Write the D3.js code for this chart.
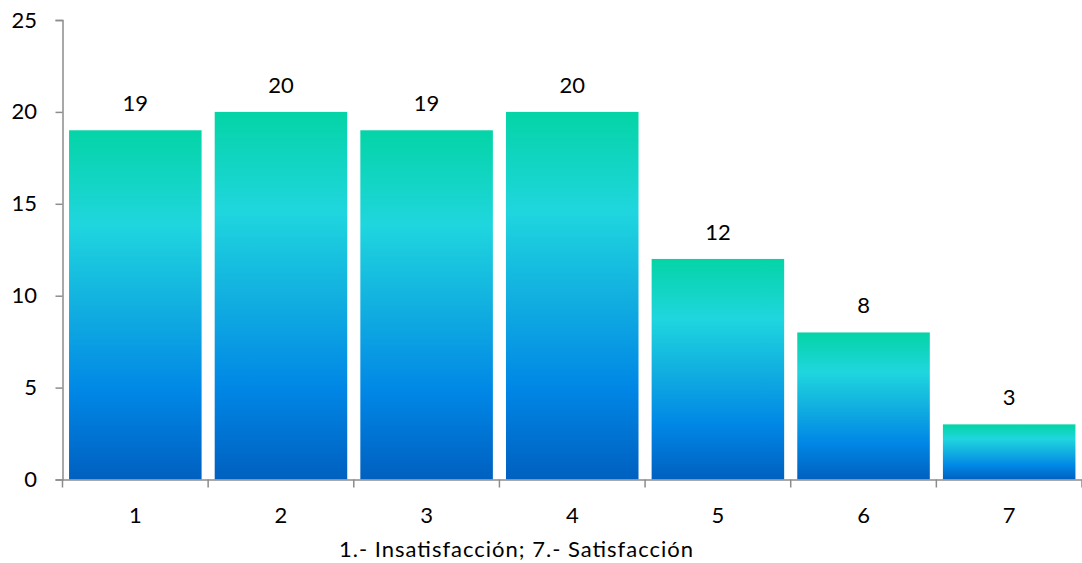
<!DOCTYPE html>
<html><head><meta charset="utf-8">
<script src="https://cdn.jsdelivr.net/npm/d3@7"></script>
<style>
body{margin:0;background:#fff;}
text{font-family:Lato,"Open Sans",sans-serif;fill:#000;}
</style></head>
<body><svg id="c" width="1082" height="563"></svg>
<script>
const categories = ["1","2","3","4","5","6","7"];
const values = [19,20,19,20,12,8,3];
const yTicks = [0,5,10,15,20,25];
const xTitle = "1.- Insatisfacción; 7.- Satisfacción";

const svg = d3.select("#c");
const mLeft = 62.5, mRight = 1082, mTop = 20, mBottom = 479.5;
const FS = 22;
const x = d3.scaleBand().domain(categories).range([mLeft, mRight]).paddingInner(0.09).paddingOuter(0.045);
const y = d3.scaleLinear().domain([0,25]).range([mBottom, mTop]);

const defs = svg.append("defs");
const g = defs.append("linearGradient").attr("id","grad").attr("x1",0).attr("y1",0).attr("x2",0).attr("y2",1);
[[0,"#04d4a6"],[0.27,"#1fd6de"],[0.5,"#12b0e0"],[0.75,"#0087e6"],[1,"#0060c0"]].forEach(([o,c])=>g.append("stop").attr("offset",o).attr("stop-color",c));

svg.selectAll("rect.bar").data(values).join("rect").attr("class","bar")
  .attr("x",(d,i)=>x(categories[i])).attr("width",x.bandwidth())
  .attr("y",d=>y(d)).attr("height",d=>y(0)-y(d)).attr("fill","url(#grad)");

svg.selectAll("text.val").data(values).join("text").attr("class","val")
  .attr("x",(d,i)=>x(categories[i])+x.bandwidth()/2).attr("y",d=>y(d)-19)
  .attr("text-anchor","middle").attr("font-size",FS).text(d=>d);

// y axis
const ya = svg.append("g").attr("transform",`translate(${mLeft},0)`)
  .call(d3.axisLeft(y).tickValues(yTicks).tickSize(7).tickPadding(18.5));
ya.select(".domain").attr("stroke","#8c8c8c").attr("stroke-width",1.5);
ya.selectAll(".tick line").attr("stroke","#8c8c8c").attr("stroke-width",1.5);
ya.selectAll("text").attr("font-size",FS).style("font-family","Lato,'Open Sans',sans-serif").attr("fill","#000");

// x axis
const xa = svg.append("g").attr("transform",`translate(0,${mBottom})`)
  .call(d3.axisBottom(x).tickSize(0).tickPadding(28));
xa.select(".domain").attr("stroke","#8c8c8c").attr("stroke-width",1.5);
xa.selectAll("text").attr("font-size",FS).style("font-family","Lato,'Open Sans',sans-serif").attr("fill","#000");
const bounds = categories.map(c=>x(c)-x.step()*x.paddingInner()/2).concat([mRight]);
svg.append("g").selectAll("line").data(bounds).join("line")
  .attr("x1",d=>d).attr("x2",d=>d).attr("y1",mBottom).attr("y2",mBottom+8)
  .attr("stroke","#8c8c8c").attr("stroke-width",1.5);

svg.append("text").attr("x",516).attr("y",557).attr("text-anchor","middle")
  .attr("font-size",FS).attr("textLength",354).attr("lengthAdjust","spacing").text(xTitle);
</script></body></html>
